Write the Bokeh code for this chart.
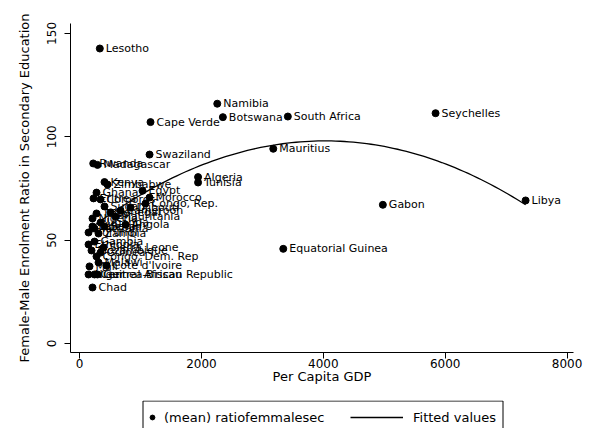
import numpy as np
from bokeh.plotting import figure
from bokeh.layouts import column
from bokeh.models import Range1d, FixedTicker, Legend, LegendItem, ColumnDataSource
from bokeh.core.properties import value
from bokeh.embed import file_html
from bokeh.resources import INLINE

# Per capita GDP and female-male secondary enrolment ratio by country
countries = [
    "Lesotho", "Namibia", "Botswana", "South Africa", "Cape Verde", "Swaziland",
    "Mauritius", "Algeria", "Tunisia", "Gabon", "Equatorial Guinea", "Seychelles",
    "Libya", "Rwanda", "Madagascar", "Kenya", "Zimbabwe", "Ghana", "Egypt",
    "Eritrea", "Morocco", "Congo, Rep.", "Comoros", "Cameroon", "Sudan", "Senegal",
    "Togo", "Mauritania", "Nigeria", "Uganda", "Benin", "Tanzania", "Angola",
    "Burundi", "Zambia", "Gambia", "Ethiopia", "Sierra Leone", "Mozambique",
    "Guinea", "Congo, Dem. Rep", "Malawi", "Cote d'Ivoire", "Mali", "Niger",
    "Central African Republic", "Guinea-Bissau", "Chad", "Liberia", "Djibouti",
]
gdp = [
    333, 2260, 2352, 3418, 1165, 1149,
    3179, 1945, 1945, 4977, 3343, 5842,
    7319, 225, 295, 410, 459, 279, 1034,
    230, 1149, 1083, 345, 673, 410, 509,
    279, 591, 213, 345, 410, 246, 755,
    148, 312, 246, 148, 394, 197,
    345, 279, 312, 443, 164, 148,
    246, 295, 213, 213, 837,
]
ratio = [
    142.7, 116.0, 109.5, 109.8, 107.1, 91.4,
    94.2, 80.5, 77.9, 67.1, 45.8, 111.4,
    69.2, 87.1, 86.4, 78.1, 76.9, 73.0, 73.9,
    70.2, 70.6, 67.7, 69.7, 64.3, 66.3, 63.4,
    62.9, 61.4, 60.5, 58.5, 56.6, 55.6, 57.5,
    53.7, 53.2, 49.3, 47.9, 46.4, 45.0,
    44.0, 42.1, 39.2, 37.7, 37.3, 33.4,
    33.4, 33.4, 27.1, 56.6, 65.8,
]

x_ticks = [0, 2000, 4000, 6000, 8000]
y_ticks = [0, 50, 100, 150]

FONT = "DejaVu Sans"

# Quadratic fit of the ratio on GDP, evaluated over the observed GDP span
coef = np.polyfit(gdp, ratio, 2)
fit_x = np.linspace(min(gdp), max(gdp), 100)
fit_y = np.polyval(coef, fit_x)

p = figure(
    width=612, height=400,
    x_range=Range1d(-148, 8105), y_range=Range1d(-4.35, 154.8),
    min_border_left=70, min_border_right=39, min_border_top=23, min_border_bottom=48,
    output_backend="svg", toolbar_location=None,
    background_fill_color="white", border_fill_color="white",
)
p.outline_line_color = None
p.xgrid.visible = False
p.ygrid.visible = False

for ax in (p.xaxis[0], p.yaxis[0]):
    ax.axis_line_color = "black"
    ax.axis_line_width = 1
    ax.major_tick_in = 0
    ax.major_tick_out = 6
    ax.major_tick_line_color = "black"
    ax.minor_tick_line_color = None
    ax.major_label_text_color = "black"
    ax.major_label_text_font = FONT
    ax.major_label_text_font_size = "12px"
    ax.axis_label_text_font = FONT
    ax.axis_label_text_font_size = "13px"
    ax.axis_label_text_font_style = "normal"
    ax.axis_label_text_color = "black"

p.xaxis.ticker = FixedTicker(ticks=x_ticks)
p.yaxis.ticker = FixedTicker(ticks=y_ticks)
p.xaxis.axis_label = "Per Capita GDP"
p.yaxis.axis_label = "Female-Male Enrolment Ratio in Secondary Education"
p.yaxis.major_label_orientation = "vertical"
p.xaxis.major_label_standoff = 0
p.xaxis.axis_label_standoff = -2
p.yaxis.major_label_standoff = 8
p.yaxis.axis_label_standoff = 13

src = ColumnDataSource(dict(x=gdp, y=ratio, name=countries))

p.line(fit_x, fit_y, line_color="black", line_width=1.3)
p.scatter("x", "y", source=src, size=7, marker="circle",
          fill_color="black", line_color="black")
p.text("x", "y", text="name", source=src, x_offset=6, text_baseline="middle",
       text_align="left", text_font=value(FONT), text_font_size="11px",
       text_color="black")

# Legend strip under the plot; ranges are in pixels (frame spans x 70..573),
# y runs downward from the strip's top edge
q = figure(
    width=612, height=28, x_range=Range1d(70, 573), y_range=Range1d(28, 0),
    x_axis_type=None, y_axis_type=None, min_border=0,
    output_backend="svg", toolbar_location=None,
    background_fill_color="white", border_fill_color="white",
)
q.outline_line_color = None
q.grid.visible = False

# frame of the key
q.quad(left=[142.5], right=[502.5], top=[0.5], bottom=[40],
       fill_color=None, line_color="black", line_width=1)

# key glyphs placed outside the visible range
key_pts = q.scatter(x=[-10], y=[-10], size=7, marker="circle",
                    fill_color="black", line_color="black")
key_fit = q.line(x=[-10, -9], y=[-10, -10], line_color="black", line_width=1.3)

leg_pts = Legend(
    items=[LegendItem(label="(mean) ratiofemmalesec", renderers=[key_pts])],
    location=(72, -5), orientation="horizontal",
    border_line_alpha=0, background_fill_alpha=0,
    padding=4, margin=0, spacing=0,
    glyph_width=12, glyph_height=24, label_height=24,
    label_standoff=6, label_width=150,
    label_text_font=FONT, label_text_font_size="13px", label_text_color="black",
)
leg_fit = Legend(
    items=[LegendItem(label="Fitted values", renderers=[key_fit])],
    location=(276, -5), orientation="horizontal",
    border_line_alpha=0, background_fill_alpha=0,
    padding=4, margin=0, spacing=0,
    glyph_width=53, glyph_height=24, label_height=24,
    label_standoff=10, label_width=20,
    label_text_font=FONT, label_text_font_size="13px", label_text_color="black",
)
q.add_layout(leg_pts)
q.add_layout(leg_fit)

open("out.html", "w").write(file_html(column(p, q, spacing=0), INLINE))
